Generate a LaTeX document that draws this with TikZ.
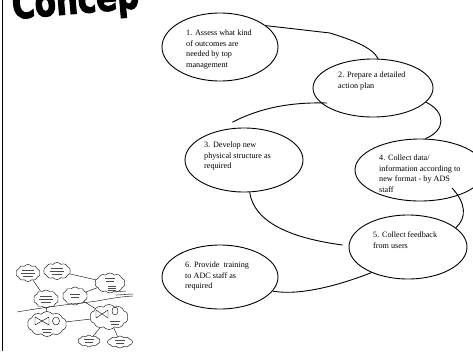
\documentclass[tikz,border=0pt]{standalone}
\usepackage{fontspec}
\setmainfont{Liberation Serif}
\newfontfamily\titlefont{DejaVu Sans Bold}[FakeBold=3]
\usetikzlibrary{shapes.geometric,shapes.symbols,calc}

\begin{document}
\begin{tikzpicture}[x=1bp,y=-1bp,
  stage/.style={draw,ellipse,line width=0.9bp,inner sep=0pt},
  stagetext/.style={anchor=north west,inner sep=0pt,align=left,
    font=\fontsize{8.2}{10.6}\selectfont},
  link/.style={line width=0.9bp},
  mini/.style={draw,cloud,cloud puffs=10,cloud puff arc=100,line width=0.4bp,inner sep=0pt},
  minilink/.style={line width=0.4bp},
  scribble/.style={line width=0.6bp,gray!60!black},
  jot/.pic={\draw[scribble] (-6,-3) -- (6,-3) (-7,0) -- (7,0) (-5,3) -- (5,3);},
  jotsmall/.pic={\draw[scribble] (-5,-1.5) -- (5,-1.5) (-4,1.5) -- (4,1.5);}]

\useasboundingbox (0,0) rectangle (473,351);
\clip (0,0) rectangle (473,351);

% page edge rule
\draw[line width=1bp] (2.5,0) -- (2.5,351);

% heading, running off the top edge
\node[anchor=base west,inner sep=0pt,rotate=5,
  font=\titlefont\fontsize{31}{31}\selectfont] (title) at (13,19)
  {\scalebox{1}[1.3]{Concep}};

% process stages
\node[stage,minimum width=116bp,minimum height=68bp] (e1) at (220,47) {};
\node[stage,minimum width=120bp,minimum height=58bp] (e2) at (373,88) {};
\node[stage,minimum width=118bp,minimum height=64bp] (e3) at (244,160) {};
\node[stage,minimum width=130bp,minimum height=62bp] (e4) at (420,170) {};
\node[stage,minimum width=118bp,minimum height=64bp] (e5) at (408,247) {};
\node[stage,minimum width=116bp,minimum height=64bp] (e6) at (220,277) {};

\node[stagetext] (t1) at (186,30) {1. Assess what kind\\of outcomes are\\needed by top\\management};
\node[stagetext] (t2) at (338,72) {2. Prepare a detailed\\action plan};
\node[stagetext] (t3) at (204,142) {3. Develop new\\physical structure as\\required};
\node[stagetext] (t4) at (379,155) {4. Collect data/\\information according to\\new format - by ADS\\staff};
\node[stagetext] (t5) at (373,232) {5. Collect feedback\\from users};
\node[stagetext] (t6) at (185,262) {6. Provide\ \ training\\to ADC staff as\\required};

% hand-drawn links between stages
\draw[link] (e1.25) -- (330,33) .. controls (352,40) and (372,47) .. (e2.80);
\draw[link] ($(e3.110)+(0,-6)$) .. controls (260,108) and (290,102) .. ($(e2.center)+(-46,15)$);
\draw[link] (e2.-15) .. controls (446,112) and (446,130) .. (e4.80);
\draw[link] (e3.-80) .. controls (254,222) and (290,238) .. ($(e5.west)+(-6,-2)$);
\draw[link] ($(e4.center)+(32,18)$) .. controls (466,203) and (467,218) .. (e5.22);
\draw[link] (e5.-145) .. controls (340,285) and (300,296) .. (e6.-15);

% small concept map sketch
\node[mini,minimum width=24bp,minimum height=17bp] (cA) at (28,273) {};
\node[mini,minimum width=27bp,minimum height=17bp] (cB) at (57,271) {};
\node[mini,minimum width=30bp,minimum height=20bp] (cC) at (110,283) {};
\node[mini,minimum width=25bp,minimum height=18bp] (cD) at (46,299) {};
\node[mini,minimum width=25bp,minimum height=18bp] (cE) at (75,296) {};
\node[mini,minimum width=39bp,minimum height=25bp] (cF) at (47,324) {};
\node[mini,minimum width=38bp,minimum height=25bp] (cG) at (109,317) {};
\node[mini,minimum width=22bp,minimum height=12bp] (cH) at (89,341) {};
\node[mini,minimum width=25bp,minimum height=12bp] (cI) at (120,342) {};

\pic at (cA.center) {jot};
\pic at (cB.center) {jot};
\pic at ($(cC.center)+(0,-3)$) {jotsmall};
\draw[scribble] ($(cC.center)+(-2,3)$) -- ++(8,0) ($(cC.center)+(-2,5)$) -- ++(8,0) ($(cC.center)+(-2,7)$) -- ++(8,0);
\pic at (cD.center) {jot};
\pic at (cE.center) {jotsmall};
\pic at ($(cF.center)+(0,7)$) {jotsmall};
\pic at ($(cG.center)+(6,6)$) {jotsmall};
\pic at (cH.center) {jotsmall};
\pic at (cI.center) {jotsmall};

% icons inside the two larger clouds
\draw[minilink] ($(cF.center)+(-12,-7)$) -- ++(7,4) -- ++(-7,4) -- cycle
  ($(cF.center)+(2,-7)$) -- ++(-7,4) -- ++(7,4) -- cycle;
\draw[minilink] ($(cF.center)+(9,-3)$) circle[x radius=3.5, y radius=4];
\draw[minilink] ($(cG.center)+(-13,-7)$) -- ++(6,4) -- ++(-6,4) -- cycle
  ($(cG.center)+(-1,-7)$) -- ++(-6,4) -- ++(6,4) -- cycle;
\draw[minilink] ($(cG.center)+(6,-6)$) circle[x radius=3, y radius=4];

\draw[minilink] (cA) -- (cD);
\draw[minilink] (cB) -- (cC);
\draw[minilink] (cC) -- (cE);
\draw[minilink] (cD) -- (cF);
\draw[minilink] (cE) -- (cG);
\draw[minilink] (cF) -- (cG);
\draw[minilink] (cG) -- (cH);
\draw[minilink] (cG) -- (cI);

% boundary line across the sketch
\draw[minilink] (17,312) .. controls (40,308) and (70,304) .. (90,302)
  .. controls (105,300) and (115,297) .. (133,296);
\draw[scribble] (114,292) -- (126,291) (116,295) -- (133,294);
\end{tikzpicture}
\end{document}
